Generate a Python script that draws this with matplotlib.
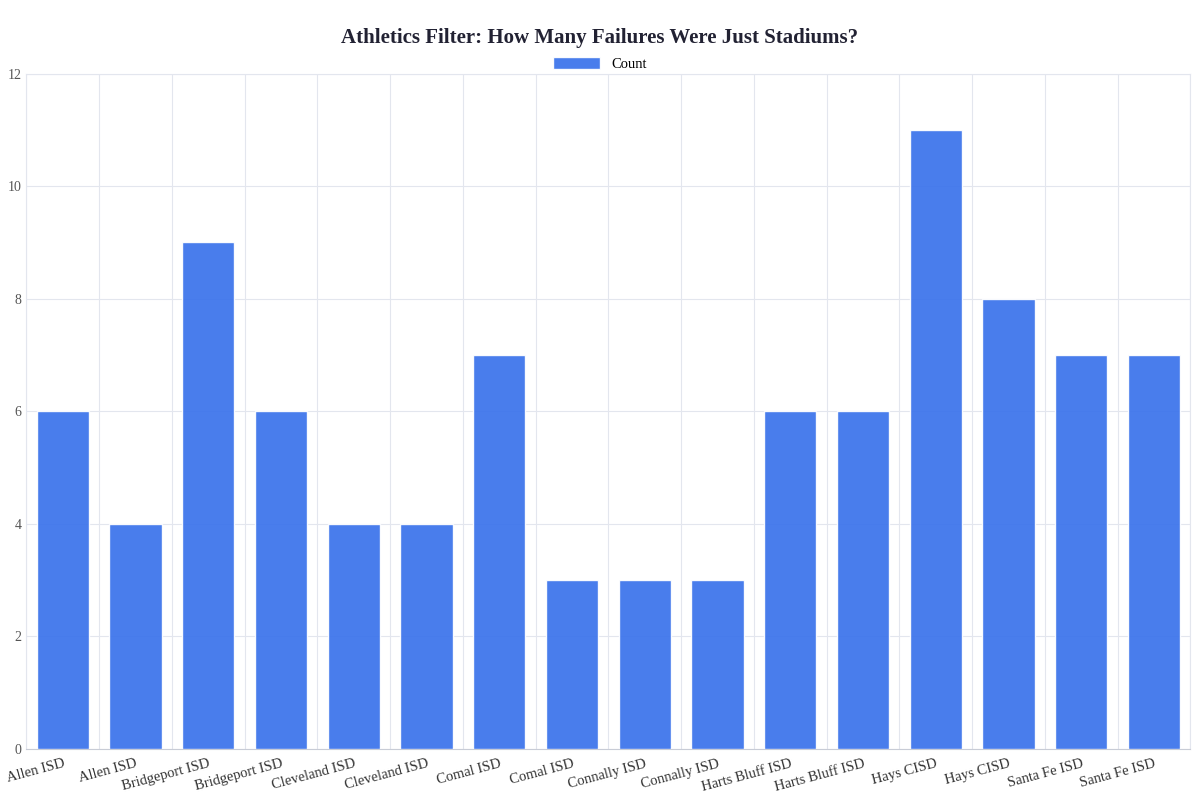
import matplotlib.pyplot as plt
import numpy as np

# Districts and failure counts
districts = ['Allen ISD', 'Allen ISD', 'Bridgeport ISD', 'Bridgeport ISD', 'Cleveland ISD',
             'Cleveland ISD', 'Comal ISD', 'Comal ISD', 'Connally ISD', 'Connally ISD',
             'Harts Bluff ISD', 'Harts Bluff ISD', 'Hays CISD', 'Hays CISD',
             'Santa Fe ISD', 'Santa Fe ISD']
counts = [6, 4, 9, 6, 4, 4, 7, 3, 3, 3, 6, 6, 11, 8, 7, 7]

plt.rcParams['font.family'] = ['Liberation Serif', 'DejaVu Serif']

fig = plt.figure(figsize=(12, 8), dpi=100)
ax = fig.add_axes([0.022, 0.064, 0.97, 0.844])

x = np.arange(len(districts))
ax.bar(x, counts, width=0.72, color='#3b73eb', alpha=0.93, edgecolor='white',
       linewidth=1, label='Count', zorder=3)

ax.set_xlim(-0.5, len(districts) - 0.5)
ax.set_ylim(0, 12)
ax.set_yticks(range(0, 13, 2))
ax.set_xticks(x)
ax.set_xticklabels(districts, rotation=15, ha='right', rotation_mode='anchor',
                   fontsize=10.5, color='#333333')
ax.set_xticks(np.arange(-0.5, len(districts), 1), minor=True)
ax.tick_params(axis='x', which='both', length=0, pad=6)
ax.tick_params(axis='y', length=0, labelsize=10, labelcolor='#555555')
ax.grid(axis='x', which='minor', color='#e3e6ee', linewidth=0.8, zorder=0)
ax.grid(axis='y', which='major', color='#e3e6ee', linewidth=0.8, zorder=0)
for s in ax.spines.values():
    s.set_color('#e3e6ee')
ax.spines['bottom'].set_color('#c8ccd6')

fig.suptitle('Athletics Filter: How Many Failures Were Just Stadiums?',
             y=0.965, fontsize=15, fontweight='bold', color='#222233')
fig.legend(loc='upper center', bbox_to_anchor=(0.5, 0.945), frameon=False,
           fontsize=10.5, handlelength=3.2, handleheight=0.9)

fig.savefig('out.png')
